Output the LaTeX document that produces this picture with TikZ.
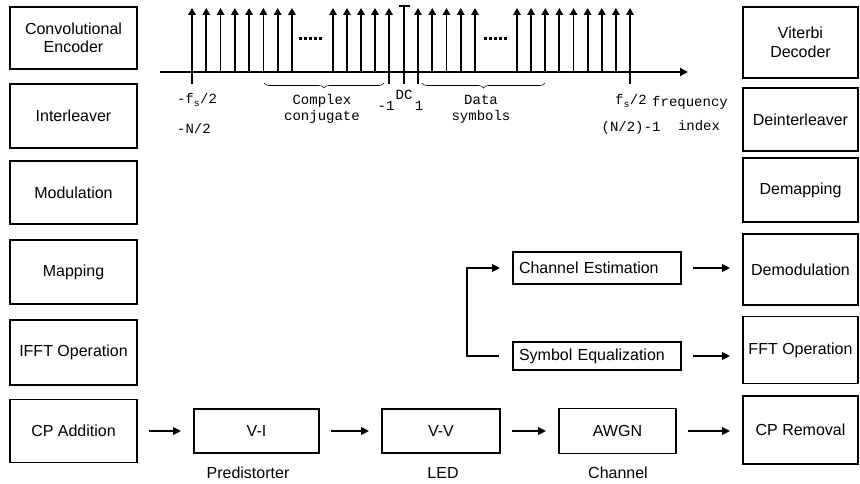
\documentclass[tikz,border=0pt]{standalone}
\usepackage{fontspec}
\setmainfont{Liberation Sans}
\setmonofont{Liberation Mono}
\usetikzlibrary{arrows.meta,decorations.pathreplacing}
\tikzset{
  blk/.style={draw, line width=1.8pt, inner sep=2pt, align=center,
    font=\fontsize{16}{18.5}\selectfont},
  lcol/.style={blk, minimum width=127pt},
  rcol/.style={blk, minimum width=115pt},
  est/.style={blk, text width=156pt, inner xsep=6pt, align=left},
  flow/.style={line width=1.8pt, -{Triangle[length=8pt,width=7.5pt]},
    shorten <=11pt, shorten >=12pt},
  spike/.style={line width=1.8pt, -{Triangle[length=7pt,width=7.5pt]}},
  tickline/.style={line width=1.8pt},
  lbl/.style={inner sep=0pt, align=center,
    font=\fontsize{14}{16}\selectfont\ttfamily},
  undertext/.style={inner sep=0pt, font=\fontsize{16}{18.5}\selectfont},
}

\begin{document}
\begin{tikzpicture}[x=1pt, y=-1pt]
        \useasboundingbox (0,0) rectangle (860,484);
        % transmitter
        \node[lcol, minimum height=62pt] (enc) at (73.5,38) {Convolutional\\Encoder};
        \node[lcol, minimum height=64pt] (intl) at (73.5,116) {Interleaver};
        \node[lcol, minimum height=63pt] (modu) at (73.5,192.5) {Modulation};
        \node[lcol, minimum height=64pt] (mapp) at (73.5,272) {Mapping};
        \node[lcol, minimum height=65pt] (ifft) at (73.5,352.5) {IFFT Operation};
        \node[lcol, minimum height=63pt] (cpadd) at (73.5,431) {CP Addition};
        % receiver
        \node[rcol, minimum height=71pt] (vit) at (800.5,42.5) {Viterbi\\Decoder};
        \node[rcol, minimum height=63pt] (deint) at (800.5,119.5) {Deinterleaver};
        \node[rcol, minimum height=64pt] (demap) at (800.5,190) {Demapping};
        \node[rcol, minimum height=71pt] (demod) at (800.5,269.5) {Demodulation};
        \node[rcol, minimum height=67pt] (fft) at (800.5,350) {FFT Operation};
        \node[rcol, minimum height=68pt] (cprem) at (800.5,430) {CP Removal};
        % link
        \node[blk, minimum width=125pt, minimum height=44pt] (vi) at (256.5,431) {V-I};
        \node[blk, minimum width=118pt, minimum height=44pt] (vv) at (441,431) {V-V};
        \node[blk, minimum width=117pt, minimum height=45pt] (awgn) at (617.5,431) {AWGN};
        \node[undertext] (pre) at (248,473) {Predistorter};
        \node[undertext] (led) at (443,473) {LED};
        \node[undertext] (chan) at (618,473) {Channel};
        \node[est, minimum height=32pt] (chest) at (597,268) {Channel Estimation};
        \node[est, minimum height=28pt] (symeq) at (597,356) {Symbol Equalization};

        \draw[flow] (cpadd.east) -- (cpadd.east -| vi.west);
        \draw[flow] (vi.east) -- (vi.east -| vv.west);
        \draw[flow] (vv.east) -- (vv.east -| awgn.west);
        \draw[flow] (awgn.east) -- (awgn.east -| cprem.west);
        \draw[flow] (chest.east) -- (chest.east -| demod.west);
        \draw[flow] (symeq.east) -- (symeq.east -| fft.west);
        \draw[line width=1.8pt, -{Triangle[length=8pt,width=7.5pt]}, shorten >=12pt]
          ([xshift=-13pt]symeq.west) -- ++(-32,0) |- (chest.west);

        % subcarrier spectrum
        \draw[line width=1.8pt, -{Triangle[length=8pt,width=8pt]}] (160,72) -- (688,72);
        \foreach \i in {0,...,7}
          \draw[spike] ({192+14.28*\i},72) -- ({192+14.28*\i},8);
        \foreach \i in {0,...,4}
          \draw[spike] ({333+14*\i},72) -- ({333+14*\i},8);
        \foreach \i in {0,...,4}
          \draw[spike] ({418+14.25*\i},72) -- ({418+14.25*\i},8);
        \foreach \i in {0,...,8}
          \draw[spike] ({517+14.125*\i},72) -- ({517+14.125*\i},8);
        \foreach \x in {192,389,404,418,630}
          \draw[tickline] (\x,72) -- (\x,84);
        \draw[tickline] (404,72) -- (404,6);
        \draw[tickline] (398.5,6) -- (409.5,6);
        \draw[line width=3pt, dash pattern=on 3pt off 2pt] (299,39) -- (324,39);
        \draw[line width=3pt, dash pattern=on 3pt off 2pt] (484,39) -- (509,39);
        \draw[line width=0.6pt, decorate, decoration={brace, mirror, amplitude=5pt}]
          (264,83) -- (384,83);
        \draw[line width=0.6pt, decorate, decoration={brace, mirror, amplitude=5pt}]
          (422,83) -- (545,83);

        \node[lbl] (fsneg) at (197,100) {-f\textsubscript{s}/2};
        \node[lbl] (nneg) at (194,128) {-N/2};
        \node[lbl] (conj) at (322,109) {Complex\\conjugate};
        \node[lbl] (dc) at (404,95) {DC};
        \node[lbl] (mone) at (386,106) {-1};
        \node[lbl] (one) at (419,106) {1};
        \node[lbl] (data) at (481,109) {Data\\symbols};
        \node[lbl] (fspos) at (631,101) {f\textsubscript{s}/2};
        \node[lbl] (npos) at (631,128) {(N/2)-1};
        \node[lbl] (freq) at (690,103) {frequency};
        \node[lbl] (idx) at (699,126) {index};
      \end{tikzpicture}
\end{document}
